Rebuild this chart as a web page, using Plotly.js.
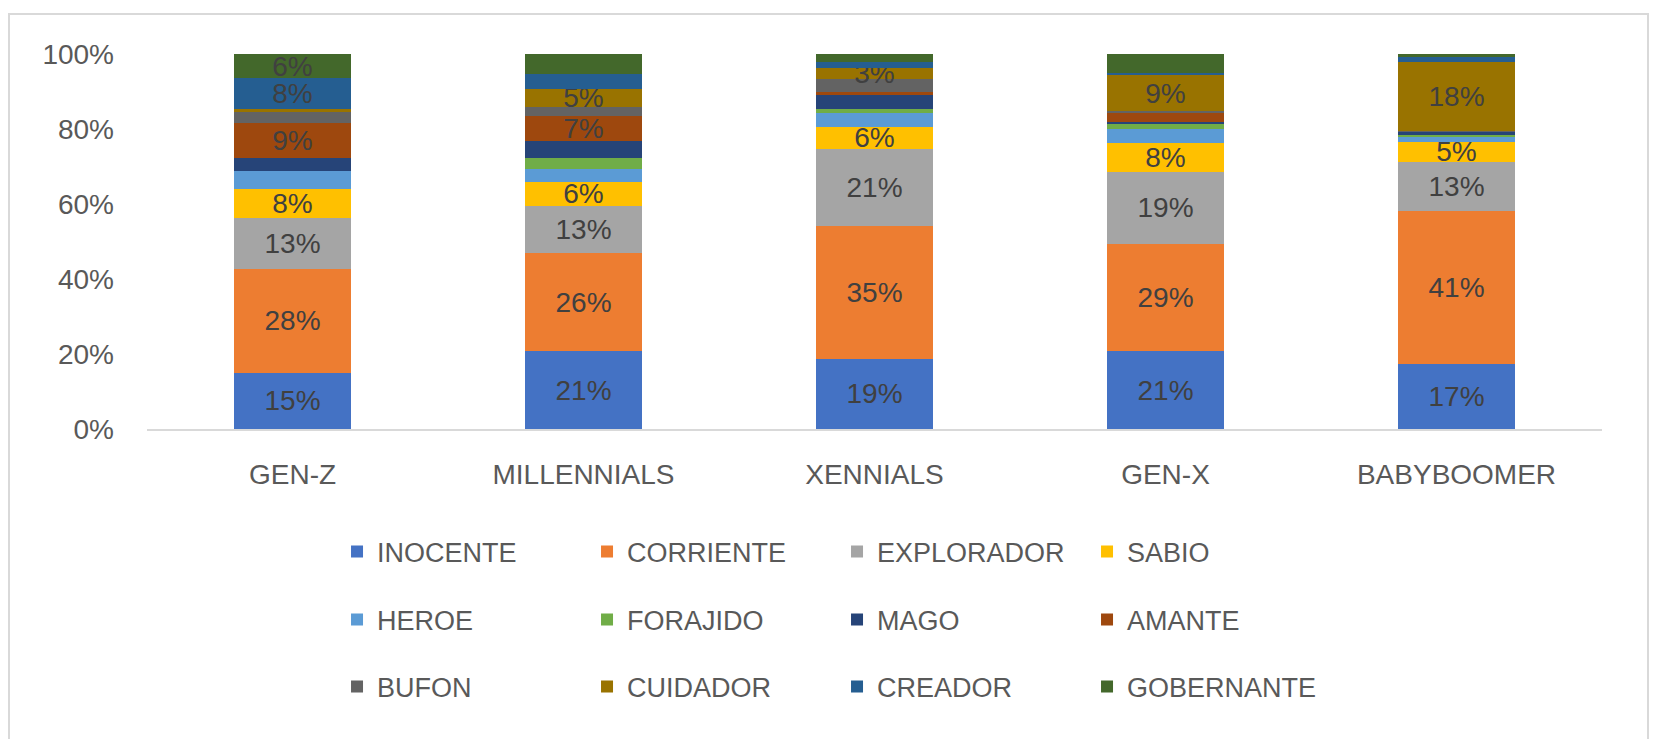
<!DOCTYPE html>
<html>
<head>
<meta charset="utf-8">
<script src="https://cdn.plot.ly/plotly-3.0.1.min.js"></script>
<style>
  html, body { margin: 0; padding: 0; background: #fff; overflow: hidden; }
  #chart { position: absolute; left: 8px; top: 13px; width: 1637px; height: 760px;
           border: 2px solid #d9d9d9; }
</style>
</head>
<body>
<div id="chart"></div>
<script>
// generaciones
const generations = ['GEN-Z', 'MILLENNIALS', 'XENNIALS', 'GEN-X', 'BABYBOOMER'];

// arquetipos, en orden de apilado (abajo -> arriba)
const archetypes = ['INOCENTE', 'CORRIENTE', 'EXPLORADOR', 'SABIO', 'HEROE', 'FORAJIDO',
                    'MAGO', 'AMANTE', 'BUFON', 'CUIDADOR', 'CREADOR', 'GOBERNANTE'];
const colors = ['#4472C4', '#ED7D31', '#A5A5A5', '#FFC000', '#5B9BD5', '#70AD47',
                '#264478', '#9E480E', '#636363', '#997300', '#255E91', '#43682B'];

// % por generación
const inocente   = [15.0, 20.7, 18.7, 20.7, 17.4];
const corriente  = [27.8, 26.3, 35.4, 28.6, 40.8];
const explorador = [13.4, 12.6, 20.7, 19.3, 13.0];
const sabio      = [7.8, 6.4, 5.8, 7.8, 5.4];
const heroe      = [4.7, 3.4, 3.6, 3.6, 1.4];
const forajido   = [0.0, 2.9, 1.2, 1.3, 0.4];
const mago       = [3.7, 4.5, 3.7, 0.6, 0.8];
const amante     = [9.2, 6.7, 0.7, 2.3, 0.0];
const bufon      = [2.9, 2.5, 3.6, 0.7, 0.2];
const cuidador   = [0.9, 4.6, 2.9, 9.4, 18.4];
const creador    = [8.2, 4.0, 1.6, 0.6, 1.3];
const gobernante = [6.4, 5.4, 2.1, 5.1, 0.9];
const series = [inocente, corriente, explorador, sabio, heroe, forajido,
                mago, amante, bufon, cuidador, creador, gobernante];

// qué etiquetas de datos se muestran (1 = visible)
const showLabel = [
  [1, 1, 1, 1, 1], [1, 1, 1, 1, 1], [1, 1, 1, 1, 1], [1, 1, 1, 1, 1],
  [0, 0, 0, 0, 0], [0, 0, 0, 0, 0], [0, 0, 0, 0, 0], [1, 1, 0, 0, 0],
  [0, 0, 0, 0, 0], [0, 1, 1, 1, 1], [1, 0, 0, 0, 0], [1, 0, 0, 0, 0]
];

const FONT = '"Liberation Sans", Arial, sans-serif';
const legendNames = ['legend', 'legend2', 'legend3'];

const traces = archetypes.map(function (name, i) {
  return {
    type: 'bar',
    name: name,
    x: generations,
    y: series[i],
    marker: { color: colors[i], line: { width: 0 } },
    text: series[i].map(function (v, j) { return showLabel[i][j] ? Math.round(v) + '%' : ''; }),
    textposition: 'inside',
    insidetextanchor: 'middle',
    constraintext: 'none',
    textfont: { family: FONT, size: 28, color: '#404040' },
    hoverinfo: 'skip',
    legend: legendNames[Math.floor(i / 4)]
  };
});

function legendRow(y) {
  return {
    orientation: 'h',
    x: 0.1306, xanchor: 'left',
    y: y, yanchor: 'middle',
    entrywidth: 205, entrywidthmode: 'pixels',
    traceorder: 'normal',
    font: { family: FONT, size: 27, color: '#595959' },
    bgcolor: 'rgba(0,0,0,0)'
  };
}

const layout = {
  width: 1637,
  height: 760,
  margin: { l: 137, r: 45, t: 39, b: 346 },
  paper_bgcolor: '#ffffff',
  plot_bgcolor: '#ffffff',
  barmode: 'stack',
  bargap: 0.595,
  showlegend: true,
  legend: legendRow(-0.328),
  legend2: legendRow(-0.509),
  legend3: legendRow(-0.688),
  xaxis: {
    showline: true, linecolor: '#d9d9d9', linewidth: 1.5,
    ticks: '', ticklabelstandoff: 20,
    tickfont: { family: FONT, size: 28, color: '#595959' },
    fixedrange: true
  },
  yaxis: {
    range: [0, 100], dtick: 20, ticksuffix: '%',
    showgrid: false, zeroline: false, showline: false,
    ticks: '', ticklabelstandoff: 32,
    tickfont: { family: FONT, size: 28, color: '#595959' },
    fixedrange: true
  },
  hovermode: false
};

Plotly.newPlot('chart', traces, layout, { displayModeBar: false, staticPlot: true });
</script>
</body>
</html>
